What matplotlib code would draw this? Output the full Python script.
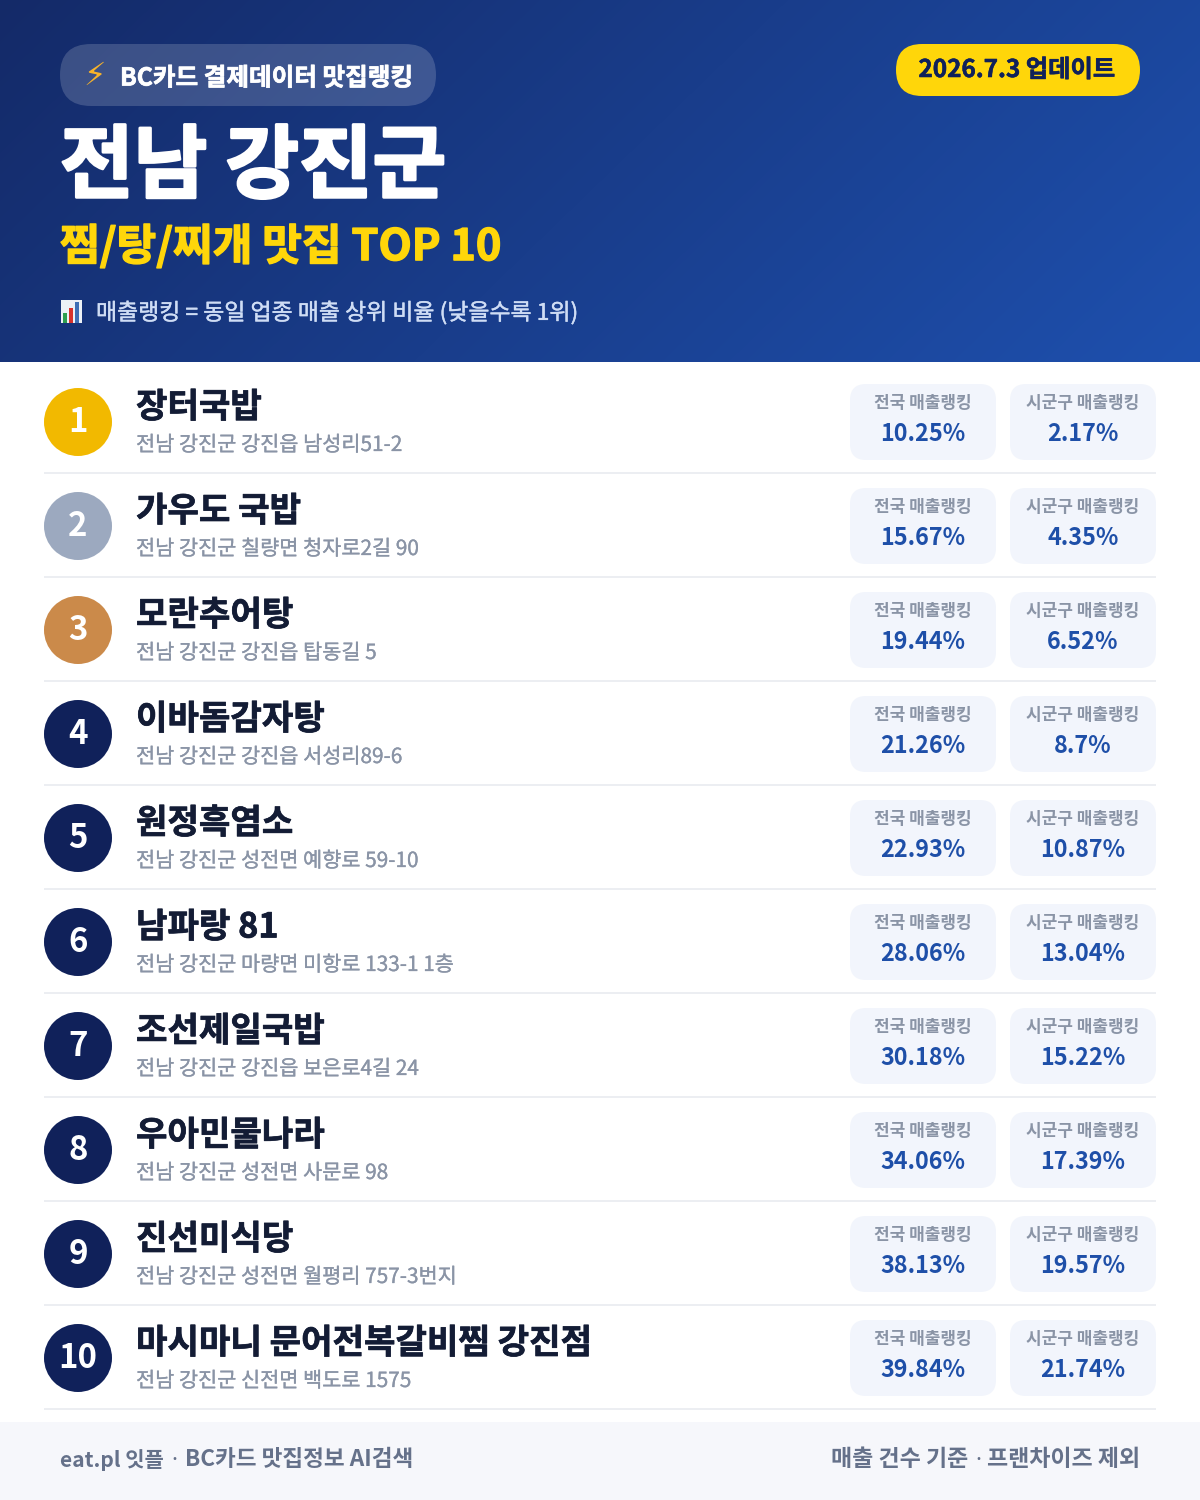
import numpy as np
import matplotlib
matplotlib.use('Agg')
import matplotlib.pyplot as plt
import matplotlib.patheffects as pe
from matplotlib.patches import FancyBboxPatch, Circle, Rectangle

plt.rcParams['font.family'] = ['Noto Sans CJK KR', 'DejaVu Sans']

names = ['장터국밥', '가우도 국밥', '모란추어탕', '이바돔감자탕', '원정흑염소',
         '남파랑 81', '조선제일국밥', '우아민물나라', '진선미식당', '마시마니 문어전복갈비찜 강진점']
addresses = ['전남 강진군 강진읍 남성리51-2', '전남 강진군 칠량면 청자로2길 90', '전남 강진군 강진읍 탑동길 5',
             '전남 강진군 강진읍 서성리89-6', '전남 강진군 성전면 예향로 59-10', '전남 강진군 마량면 미항로 133-1 1층',
             '전남 강진군 강진읍 보은로4길 24', '전남 강진군 성전면 사문로 98', '전남 강진군 성전면 월평리 757-3번지',
             '전남 강진군 신전면 백도로 1575']
national = ['10.25%', '15.67%', '19.44%', '21.26%', '22.93%', '28.06%', '30.18%', '34.06%', '38.13%', '39.84%']
local = ['2.17%', '4.35%', '6.52%', '8.7%', '10.87%', '13.04%', '15.22%', '17.39%', '19.57%', '21.74%']
ranks = [str(i) for i in range(1, 11)]
medal_colors = ['#F2B900', '#9CA9BF', '#CB8A4A'] + ['#10215A'] * 7

def px(s):
    return s * 0.72

def heavy(color, w):
    return [pe.withStroke(linewidth=w, foreground=color)]

fig = plt.figure(figsize=(12, 15), dpi=100, facecolor='white')
ax = fig.add_axes([0, 0, 1, 1])
ax.set_xlim(0, 1200)
ax.set_ylim(1500, 0)
ax.axis('off')

# header gradient
h = 362
yy, xx = np.mgrid[0:h, 0:1200]
t = (xx * 1200 * 0.7 + yy * 362 * 2.4) / (1200 * 1200 * 0.7 + 362 * 362 * 2.4)
c0 = np.array([0x14, 0x2A, 0x68]) / 255
c1 = np.array([0x1E, 0x50, 0xAE]) / 255
img = c0[None, None, :] + (c1 - c0)[None, None, :] * t[..., None]
ax.imshow(img, extent=(0, 1200, 362, 0), aspect='auto', zorder=0, interpolation='bilinear')
ax.set_xlim(0, 1200)
ax.set_ylim(1500, 0)

def rbox(x, y, w, h, r, color, alpha=1.0, z=1):
    ax.add_patch(FancyBboxPatch((x + r, y + r), w - 2 * r, h - 2 * r, boxstyle=f'round,pad={r},rounding_size={r}',
                                fc=color, ec='none', alpha=alpha, zorder=z, mutation_aspect=1))

rbox(60, 44, 376, 62, 31, 'white', alpha=0.17, z=1)
ax.text(95, 76, '⚡', color='#F7B32B', fontsize=px(32), ha='center', va='center', family=['DejaVu Sans'], zorder=3)
ax.text(120, 78.5, 'BC카드 결제데이터 맛집랭킹', color='white', fontsize=px(24.6), fontweight='bold', ha='left', va='center', zorder=3,
        path_effects=heavy('white', 0.5))
rbox(896, 44, 244, 52, 26, '#FFD60A', z=1)
ax.text(1017, 70, '2026.7.3 업데이트', color='#10215A', fontsize=px(24.3), fontweight='bold', ha='center', va='center', zorder=3,
        path_effects=heavy('#10215A', 0.4))
ax.text(60, 168, '전남 강진군', color='white', fontsize=px(80), fontweight='bold', ha='left', va='center', zorder=3,
        path_effects=heavy('white', 2.0))
ax.text(60, 247, '찜/탕/찌개 맛집 TOP 10', color='#FFD60A', fontsize=px(43.2), fontweight='bold', ha='left', va='center', zorder=3,
        path_effects=heavy('#FFD60A', 1.0))
# chart emoji
ax.add_patch(Rectangle((61, 300), 21, 23, fc='#EDF1F6', ec='none', zorder=2))
ax.add_patch(Rectangle((63, 313), 4, 10, fc='#2E9E4F', ec='none', zorder=3))
ax.add_patch(Rectangle((69, 308), 4, 15, fc='#D8322C', ec='none', zorder=3))
ax.add_patch(Rectangle((75, 302), 4, 21, fc='#3F6FB5', ec='none', zorder=3))
ax.text(96, 313, '매출랭킹 = 동일 업종 매출 상위 비율 (낮을수록 1위)', color='#CFDDF5', fontsize=px(22.9), ha='left', va='center', zorder=3,
        path_effects=heavy('#CFDDF5', 0.3))

# rows
row_h = 104
for i in range(10):
    top = 370 + i * row_h
    ax.add_patch(Circle((78, top + 52), 34, fc=medal_colors[i], ec='none', zorder=2))
    ax.text(78, top + 52, ranks[i], color='white', fontsize=px(33), fontweight='bold', ha='center', va='center', zorder=3)
    ax.text(136, top + 37, names[i], color='#131C35', fontsize=px(34.2), fontweight='bold', ha='left', va='center', zorder=3,
            path_effects=heavy('#131C35', 0.5))
    ax.text(136, top + 75, addresses[i], color='#8A94A6', fontsize=px(20.8), ha='left', va='center', zorder=3,
            path_effects=heavy('#8A94A6', 0.2))
    rbox(850, top + 14, 146, 76, 16, '#F2F5FC', z=1)
    rbox(1010, top + 14, 146, 76, 16, '#F2F5FC', z=1)
    for cx, lab, val in ((923, '전국 매출랭킹', national[i]), (1083, '시군구 매출랭킹', local[i])):
        ax.text(cx, top + 32.5, lab, color='#8A94A6', fontsize=px(17), fontweight='bold', ha='center', va='center', zorder=3)
        ax.text(cx, top + 64, val, color='#1E4FA8', fontsize=px(23.4), fontweight='bold', ha='center', va='center', zorder=3)
    ax.add_patch(Rectangle((44, top + 102), 1112, 2, fc='#ECEEF2', ec='none', zorder=1))

# footer
foot = dict(color='#65718A', fontweight='bold', va='center', zorder=3)
ax.add_patch(Rectangle((0, 1422), 1200, 78, fc='#F6F7FB', ec='none', zorder=1))
ax.text(60, 1460, 'eat.pl 잇플', ha='left', fontsize=px(21), **foot)
ax.text(174, 1460, '·', ha='center', family=['Noto Sans'], fontsize=px(22.6), **foot)
ax.text(413, 1460, 'BC카드 맛집정보 AI검색', ha='right', fontsize=px(22.6), **foot)
ax.text(831, 1460, '매출 건수 기준', ha='left', fontsize=px(23), **foot)
ax.text(978, 1460, '·', ha='center', family=['Noto Sans'], fontsize=px(22.6), **foot)
ax.text(1140, 1460, '프랜차이즈 제외', ha='right', fontsize=px(23), **foot)

fig.savefig('out.png', dpi=100)
